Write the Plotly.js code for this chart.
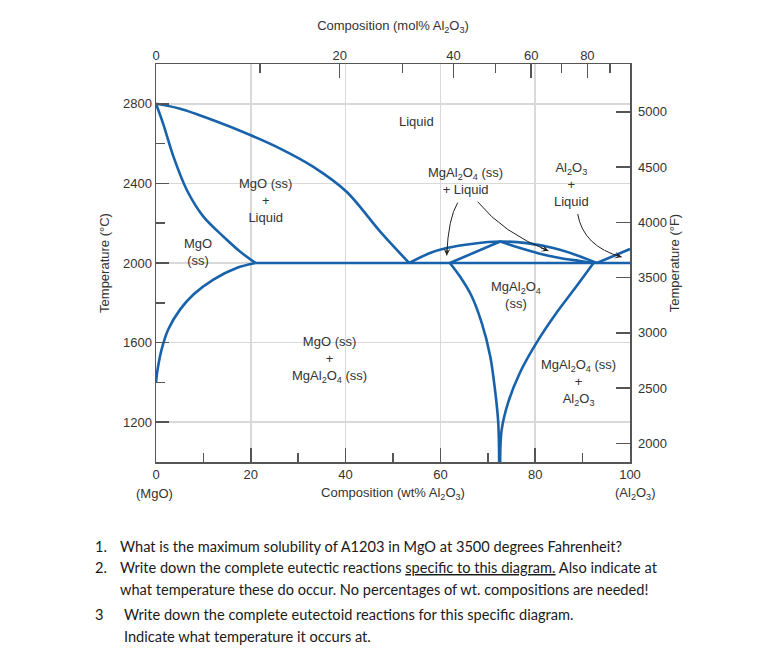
<!DOCTYPE html>
<html>
<head>
<meta charset="utf-8">
<script src="https://cdn.plot.ly/plotly-3.0.1.min.js"></script>
<style>
  html, body { margin: 0; padding: 0; background: #ffffff; }
  #chart { width: 779px; height: 659px; }
</style>
</head>
<body>
<div id="chart"></div>
<script>
// ---------- DATA (wt% Al2O3, temperature °C) ----------
const liquidusMgO_wt = [0, 5.1, 12.1, 20.0, 26.2, 33.2, 40.2, 47.3, 53.4];
const liquidusMgO_T  = [2800, 2775, 2717, 2642, 2575, 2483, 2358, 2158, 2000];

const solidusMgO_wt = [0, 1.5, 3.7, 6.5, 10.0, 14.2, 17.7, 21.0];
const solidusMgO_T  = [2800, 2700, 2533, 2367, 2233, 2133, 2058, 2000];

const solvusMgO_wt = [21.0, 17.0, 12.1, 7.9, 5.1, 2.6, 1.2, 0.35, 0];
const solvusMgO_T  = [2000, 1975, 1917, 1842, 1767, 1667, 1567, 1467, 1400];

const eutecticLine_wt = [21.0, 100];
const eutecticLine_T  = [2000, 2000];

const spinelLiquidus_wt = [53.4, 57.8, 61.3, 66.9, 72.6, 78.2, 83.8, 89.5, 93.0];
const spinelLiquidus_T  = [2000, 2050, 2075, 2097, 2108, 2100, 2075, 2033, 2000];

const spinelSolidusLeft_wt = [62.0, 72.6];
const spinelSolidusLeft_T  = [2000, 2108];

const spinelSolidusRight_wt = [72.6, 76.8, 81.0, 85.2, 89.5, 92.3];
const spinelSolidusRight_T  = [2108, 2075, 2047, 2025, 2010, 2000];

const aluminaLiquidus_wt = [93.0, 100];
const aluminaLiquidus_T  = [2000, 2070];

const spinelLeft_wt = [62.0, 64.1, 66.6, 68.7, 70.5, 71.5, 72.2, 72.4];
const spinelLeft_T  = [2000, 1933, 1833, 1700, 1533, 1367, 1200, 1000];

const spinelRight_wt = [92.3, 88.7, 84.5, 80.3, 76.8, 74.3, 72.9, 72.6];
const spinelRight_T  = [2000, 1883, 1750, 1600, 1450, 1300, 1158, 1000];

// ---------- AXIS TICKS ----------
const wtTicks = [0, 20, 40, 60, 80, 100];
const wtMinor = [10, 30, 50, 70, 90];
const tempCTicks = [1200, 1600, 2000, 2400, 2800];
const tempCMinor = [1400, 1800, 2200, 2600];
const tempFTicks = [2000, 2500, 3000, 3500, 4000, 4500, 5000];
const molTicks = [0, 20, 40, 60, 80];
const molMinor = [10, 30, 50, 70, 90];

const MW_AL2O3 = 101.96, MW_MGO = 40.30;
function molToWt(m) { return 100 * m * MW_AL2O3 / (m * MW_AL2O3 + (100 - m) * MW_MGO); }
function cToF(c) { return c * 9 / 5 + 32; }

const T_RANGE = [1000, 3000];
const BLUE = '#1762ab';
const AX = '#555555';
const TXT = '#333333';
const FONT = "'Liberation Sans', Arial, sans-serif";

function boundary(xs, ys, shape) {
  return {
    x: xs, y: ys, type: 'scatter', mode: 'lines',
    line: { color: BLUE, width: 2.6, shape: shape || 'spline', smoothing: 0.9 },
    hoverinfo: 'skip', showlegend: false
  };
}

const traces = [
  boundary(liquidusMgO_wt, liquidusMgO_T),
  boundary(solidusMgO_wt, solidusMgO_T),
  boundary(solvusMgO_wt, solvusMgO_T),
  boundary(eutecticLine_wt, eutecticLine_T, 'linear'),
  boundary(spinelLiquidus_wt, spinelLiquidus_T),
  boundary(spinelSolidusLeft_wt, spinelSolidusLeft_T, 'linear'),
  boundary(spinelSolidusRight_wt, spinelSolidusRight_T),
  boundary(aluminaLiquidus_wt, aluminaLiquidus_T, 'linear'),
  boundary(spinelLeft_wt, spinelLeft_T),
  boundary(spinelRight_wt, spinelRight_T),
  { x: [50], y: [cToF(2000)], xaxis: 'x2', yaxis: 'y2', type: 'scatter', mode: 'markers',
    marker: { opacity: 0 }, hoverinfo: 'skip', showlegend: false }
];

// ---------- LAYOUT ----------
const M = { l: 156, r: 149, t: 64, b: 197 };
const PW = 779 - M.l - M.r, PH = 659 - M.t - M.b;
function px(x) { return (x - M.l) / PW; }
function py(y) { return (M.t + PH - y) / PH; }

const tf = { family: FONT, size: 13, color: TXT };

function label(x, y, text) {
  return { x: x, y: y, xref: 'x', yref: 'y', text: text, showarrow: false,
           font: tf, align: 'center', xanchor: 'center', yanchor: 'middle' };
}

// curved arrows (quadratic curves) : [start, control, end] in data coords
const arrows = [
  [[63.65, 2303], [61.67, 2227], [61.33, 2038]],
  [[67.85, 2308], [73.27, 2150], [82.8, 2061]],
  [[88.97, 2246], [90.15, 2083], [98.25, 2030]]
];
const shapes = arrows.map(a => ({
  type: 'path', xref: 'x', yref: 'y',
  path: `M ${a[0][0]},${a[0][1]} Q ${a[1][0]},${a[1][1]} ${a[2][0]},${a[2][1]}`,
  line: { color: '#222', width: 1 }
}));
const arrowHeads = arrows.map(a => ({
  x: a[2][0], y: a[2][1], xref: 'x', yref: 'y',
  ax: a[2][0] - 0.2 * (a[2][0] - a[1][0]), ay: a[2][1] - 0.2 * (a[2][1] - a[1][1]),
  axref: 'x', ayref: 'y', showarrow: true, arrowhead: 3, arrowsize: 1.2,
  arrowwidth: 1, arrowcolor: '#222', text: ''
}));

const QF = { family: 'Lato, "Open Sans", sans-serif', size: 14.6, color: '#1a1a1a' };
function q(x, y, text) {
  return { x: px(x), y: py(y), xref: 'paper', yref: 'paper', text: text, showarrow: false,
           font: QF, xanchor: 'left', yanchor: 'middle', align: 'left' };
}

const annotations = [
  label(54.9, 2711, 'Liquid'),
  label(23.2, 2316, 'MgO (ss)<br>+<br>Liquid'),
  label(8.9, 2056, 'MgO<br>(ss)'),
  label(36.7, 1516, 'MgO (ss)<br>+<br>MgAl<sub>2</sub>O<sub>4</sub> (ss)'),
  label(75.9, 1837, 'MgAl<sub>2</sub>O<sub>4</sub><br>(ss)'),
  label(89.1, 1402, 'MgAl<sub>2</sub>O<sub>4</sub> (ss)<br>+<br>Al<sub>2</sub>O<sub>3</sub>'),
  label(65.2, 2411, 'MgAl<sub>2</sub>O<sub>4</sub> (ss)<br>+ Liquid'),
  label(87.7, 2397, 'Al<sub>2</sub>O<sub>3</sub><br>+<br>Liquid'),
  { x: px(154), y: py(493), xref: 'paper', yref: 'paper', text: '(MgO)', showarrow: false,
    font: tf, xanchor: 'center', yanchor: 'middle' },
  { x: px(635), y: py(493), xref: 'paper', yref: 'paper', text: '(Al<sub>2</sub>O<sub>3</sub>)', showarrow: false,
    font: tf, xanchor: 'center', yanchor: 'middle' },
  q(93, 546.7, '1.'),
  q(117.7, 546.7, 'What is the maximum solubility of A1203 in MgO at 3500 degrees Fahrenheit?'),
  q(93, 567.7, '2.'),
  q(117.7, 567.7, 'Write down the complete eutectic reactions <u>specific to this diagram.</u> Also indicate at'),
  q(117.7, 589.3, 'what temperature these do occur. No percentages of wt. compositions are needed!'),
  q(93, 614.3, '3'),
  q(122.3, 614.3, 'Write down the complete eutectoid reactions for this specific diagram.'),
  q(122.3, 636.7, 'Indicate what temperature it occurs at.')
].concat(arrowHeads);

const layout = {
  width: 779, height: 659,
  margin: M,
  paper_bgcolor: '#ffffff', plot_bgcolor: '#ffffff',
  font: tf,
  showlegend: false,
  xaxis: {
    range: [0, 100], tickmode: 'array', tickvals: wtTicks,
    ticks: 'inside', ticklen: 14, tickwidth: 1.5, tickcolor: AX,
    showline: true, linecolor: AX, linewidth: 1.5, mirror: true,
    showgrid: true, gridcolor: '#d9d9d9', gridwidth: 1.5, zeroline: false,
    minor: { tickmode: 'array', tickvals: wtMinor, ticks: 'inside', ticklen: 9, tickwidth: 1.5, tickcolor: AX, showgrid: false },
    tickfont: tf,
    title: { text: 'Composition (wt% Al<sub>2</sub>O<sub>3</sub>)', font: tf, standoff: 7 }
  },
  xaxis2: {
    overlaying: 'x', side: 'top', anchor: 'y2', range: [0, 100],
    tickmode: 'array', tickvals: molTicks.map(molToWt), ticktext: molTicks.map(String),
    ticks: 'inside', ticklen: 14, tickwidth: 1.5, tickcolor: AX,
    showline: false, showgrid: false, zeroline: false,
    minor: { tickmode: 'array', tickvals: molMinor.map(molToWt), ticks: 'inside', ticklen: 9, tickwidth: 1.5, tickcolor: AX, showgrid: false },
    tickfont: tf,
    title: { text: 'Composition (mol% Al<sub>2</sub>O<sub>3</sub>)', font: tf, standoff: 14 }
  },
  yaxis: {
    range: T_RANGE, tickmode: 'array', tickvals: tempCTicks,
    ticks: 'inside', ticklen: 13, tickwidth: 1.5, tickcolor: AX,
    showline: true, linecolor: AX, linewidth: 1.5, mirror: true,
    showgrid: true, gridcolor: '#d9d9d9', gridwidth: 1.5, zeroline: false,
    minor: { tickmode: 'array', tickvals: tempCMinor, ticks: 'inside', ticklen: 9, tickwidth: 1.5, tickcolor: AX, showgrid: false },
    tickfont: tf,
    title: { text: 'Temperature (°C)', font: tf, standoff: 10 }
  },
  yaxis2: {
    overlaying: 'y', side: 'right', anchor: 'x2', range: T_RANGE.map(cToF),
    tickmode: 'array', tickvals: tempFTicks,
    ticks: 'inside', ticklen: 14, tickwidth: 1.5, tickcolor: AX,
    ticklabelstandoff: 7,
    showline: false, showgrid: false, zeroline: false,
    tickfont: tf,
    title: { text: 'Temperature (°F)', font: tf, standoff: 3 }
  },
  shapes: shapes,
  annotations: annotations
};

Plotly.newPlot('chart', traces, layout, { staticPlot: true, displayModeBar: false });
</script>
</body>
</html>
